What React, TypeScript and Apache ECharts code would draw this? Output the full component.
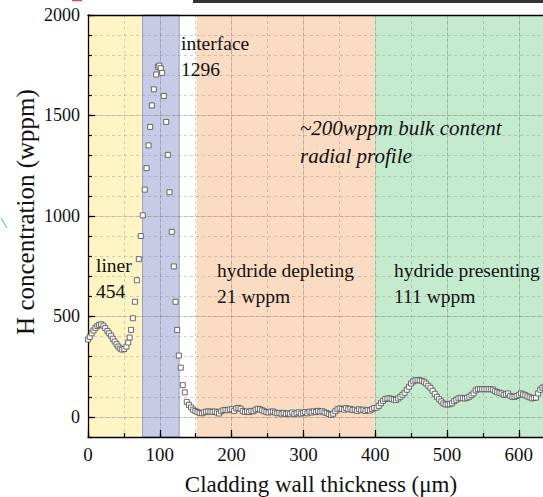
import React, { useEffect, useRef } from 'react';
import * as echarts from 'echarts';

// ---- data (x in µm, H concentration in wppm) ----
const linerData: [number, number][] = [
  [0, 385], [2.5, 398], [5, 416], [7.7, 430], [10.4, 443], [13, 452], [15.5, 458], [18.3, 461],
  [21.5, 454], [24, 442], [27, 428], [29.5, 416], [32.3, 404], [34.6, 389], [37.2, 375], [39.8, 362],
  [42.3, 350], [44.9, 340], [47.6, 335], [50.5, 338], [53.5, 350], [56, 370], [58, 395], [60, 433],
  [62.5, 491], [65.5, 573], [68, 680],
];
const interfaceData: [number, number][] = [
  [70.8, 785], [73.5, 900], [76.3, 1003], [79.1, 1131], [81.5, 1238], [84.3, 1351], [86.6, 1443],
  [89, 1550], [91.7, 1630], [95, 1704], [97.3, 1742], [99.3, 1748], [101.3, 1735], [103.3, 1712],
  [105.6, 1597], [108.9, 1468], [111.2, 1304], [113.5, 1118], [116.7, 921], [119.5, 749],
  [121.9, 573], [124.2, 433], [126.5, 305], [129.2, 245], [132, 158], [134.8, 122], [137.6, 75],
];
const depletingData: [number, number][] = [
  [140.5, 60], [143.5, 47], [146.5, 36], [149.5, 29], [152.5, 24], [155.5, 20], [158.5, 18],
  [161.5, 22], [164.5, 26], [167.5, 27], [170.5, 26], [173.5, 25], [176.5, 27], [179.5, 22],
  [182.5, 17], [185.5, 28], [188.5, 33], [191.5, 35], [194.5, 33], [197.5, 37], [200.5, 38],
  [203.5, 30], [206.5, 42], [209.5, 45], [212.5, 41], [215.5, 30], [218.5, 25], [221.5, 27],
  [224.5, 24], [227.5, 30], [230.5, 28], [233.5, 36], [236.5, 40], [239.5, 38], [242.5, 33],
  [245.5, 28], [248.5, 24], [251.5, 22], [254.5, 26], [257.5, 27], [260.5, 22], [263.5, 18],
  [266.5, 20], [269.5, 16], [272.5, 20], [275.5, 14], [278.5, 18], [281.5, 16], [284.5, 22],
  [287.5, 14], [290.5, 18], [293.5, 23], [296.5, 16], [299.5, 20], [302.5, 24], [305.5, 18],
  [308.5, 26], [311.5, 22], [314.5, 28], [317.5, 24], [320.5, 30], [323.5, 26], [326.5, 28],
  [329.5, 22], [332.5, 20], [335.5, 14], [338.5, 10], [341.5, 16], [344.5, 28], [347.5, 38],
  [350.5, 42], [353.5, 40], [356.5, 36], [359.5, 44], [362.5, 38], [365.5, 40], [368.5, 34],
  [371.5, 36], [374.5, 30], [377.5, 38], [380.5, 33], [383.5, 36], [386.5, 30], [389.5, 34],
  [392.5, 32], [395.5, 38], [398.5, 44],
];
const presentingData: [number, number][] = [
  [402, 46], [405, 55], [408, 68], [411, 80], [414, 89], [417, 92], [420, 92], [423, 90],
  [426, 86], [429, 84], [432, 92], [435, 100], [438, 110], [441, 120], [444, 135], [447, 150],
  [450, 166], [453, 177], [456, 182], [459, 183], [462, 182], [465, 180], [468, 175], [471, 166],
  [474, 155], [477, 145], [480, 130], [483, 115], [486, 100], [489, 88], [492, 77], [495, 67],
  [498, 62], [501, 62], [504, 63], [507, 68], [510, 78], [513, 85], [516, 92], [519, 95],
  [522, 93], [525, 92], [528, 95], [531, 100], [534, 108], [537, 117], [540, 132], [543, 138],
  [546, 138], [549, 138], [552, 138], [555, 138], [558, 138], [561, 138], [564, 136], [567, 128],
  [570, 123], [573, 120], [576, 117], [579, 110], [582, 112], [585, 117], [588, 105], [591, 100],
  [594, 100], [597, 104], [600, 110], [603, 117], [606, 112], [609, 108], [612, 102], [615, 98],
  [618, 92], [621, 94], [624, 96], [627, 117], [630, 135], [633, 145], [636, 150], [639, 150],
];

// shaded regions
const bandStart = [0, 76, 151, 400];
const bandEnd = [76, 127, 400, 700];
const bandColor = ['#FFF5C4', '#C8CBE6', '#FBDBC1', '#C5EBCF'];

// tick labels
const xMajorTicks = [0, 100, 200, 300, 400, 500, 600];
const yMajorTicks = [0, 500, 1000, 1500, 2000];

const FONT = 'Liberation Serif';

export default function App() {
  const ref = useRef<HTMLDivElement>(null);
  useEffect(() => {
    const chart = echarts.init(ref.current as HTMLDivElement, null, { renderer: 'svg' });
    const profileData = [...linerData, ...interfaceData, ...depletingData, ...presentingData];
    const bands = bandStart.map((s, i) => [s, bandEnd[i], i]);
    const axisLineStyle = { color: '#000', width: 1.3 };
    const tickStyle = { color: '#000', width: 1.2 };
    const minorGrid = { color: 'rgba(110,110,110,0.3)', type: [3, 3] as any, width: 1 };
    const majorGrid = { color: 'rgba(110,110,110,0.22)', width: 1 };
    const textBase = { fontFamily: FONT, fill: '#111' };
    const plain = (v: number) => String(v);

    chart.setOption({
      animation: false,
      backgroundColor: '#fff',
      textStyle: { fontFamily: FONT },
      grid: { left: 88, top: 15, width: 459.5, height: 422, outerBoundsMode: 'none', containLabel: false },
      xAxis: [
        {
          type: 'value', min: 0, max: 640, interval: 50, position: 'bottom', z: 1.5,
          axisLine: { show: true, onZero: false, lineStyle: axisLineStyle },
          axisTick: { show: true, inside: true, length: 4, lineStyle: tickStyle },
          axisLabel: { show: false },
          splitLine: { show: true, lineStyle: minorGrid },
        },
        {
          type: 'value', min: 0, max: 640, position: 'bottom', z: 1.5,
          axisLine: { show: false, onZero: false },
          axisTick: { show: true, inside: true, length: 7, customValues: xMajorTicks, lineStyle: tickStyle },
          axisLabel: {
            show: true, customValues: xMajorTicks, margin: 8, formatter: plain,
            fontFamily: FONT, fontSize: 19, color: '#111',
          },
          splitLine: { show: true, lineStyle: majorGrid },
        },
        {
          type: 'value', min: 0, max: 640, position: 'top', z: 1.5,
          axisLine: { show: true, onZero: false, lineStyle: axisLineStyle },
          axisTick: { show: false }, axisLabel: { show: false }, splitLine: { show: false },
        },
      ],
      yAxis: [
        {
          type: 'value', min: -100, max: 2000, interval: 100, position: 'left', z: 1.5,
          axisLine: { show: true, onZero: false, lineStyle: axisLineStyle },
          axisTick: { show: true, inside: true, length: 4, lineStyle: tickStyle },
          axisLabel: { show: false },
          splitLine: { show: true, lineStyle: minorGrid },
        },
        {
          type: 'value', min: -100, max: 2000, position: 'left', z: 1.5,
          axisLine: { show: false, onZero: false },
          axisTick: { show: true, inside: true, length: 7, customValues: yMajorTicks, lineStyle: tickStyle },
          axisLabel: {
            show: true, customValues: yMajorTicks, margin: 8, formatter: plain,
            fontFamily: FONT, fontSize: 18, color: '#111',
          },
          splitLine: { show: true, lineStyle: majorGrid },
        },
      ],
      series: [
        {
          type: 'custom', z: 1, xAxisIndex: 0, yAxisIndex: 0, silent: true,
          data: bands,
          renderItem: (params: any, api: any) => {
            const s = api.value(0);
            const e = api.value(1);
            const i = api.value(2);
            const p0 = api.coord([s, 2000]);
            const p1 = api.coord([e, -100]);
            const cs = params.coordSys;
            return {
              type: 'rect',
              shape: { x: p0[0], y: cs.y, width: p1[0] - p0[0], height: cs.height },
              style: { fill: bandColor[i], stroke: i === 1 ? '#9a9ebf' : null, lineWidth: 1 },
            };
          },
        },
        {
          type: 'scatter', z: 2, xAxisIndex: 0, yAxisIndex: 0, silent: true,
          data: profileData,
          symbol: 'rect', symbolSize: 5,
          itemStyle: { color: '#fff', borderColor: '#5a5a5a', borderWidth: 0.9, opacity: 1 },
        },
      ],
      graphic: [
        { type: 'text', z: 10, x: 181, y: 30.5, style: { ...textBase, text: 'interface\n1296', fontSize: 19.5, lineHeight: 26, verticalAlign: 'top' } },
        { type: 'text', z: 10, x: 96, y: 252.5, style: { ...textBase, text: 'liner\n454', fontSize: 19.5, lineHeight: 26, verticalAlign: 'top' } },
        { type: 'text', z: 10, x: 217, y: 257, style: { ...textBase, text: 'hydride depleting\n21 wppm', fontSize: 19.5, lineHeight: 26.5, verticalAlign: 'top' } },
        { type: 'text', z: 10, x: 394, y: 257, style: { ...textBase, text: 'hydride presenting\n111 wppm', fontSize: 19.5, lineHeight: 26.5, verticalAlign: 'top' } },
        { type: 'text', z: 10, x: 300, y: 114, style: { ...textBase, text: '~200wppm bulk content\nradial profile', fontSize: 21, fontStyle: 'italic', lineHeight: 28, verticalAlign: 'top' } },
        { type: 'text', z: 10, x: 321, y: 484, style: { ...textBase, text: 'Cladding wall thickness (\u03bcm)', fontSize: 23, align: 'center', verticalAlign: 'middle' } },
        { type: 'text', z: 10, x: 25, y: 212, rotation: Math.PI / 2, style: { ...textBase, text: 'H concentration (wppm)', fontSize: 25, align: 'center', verticalAlign: 'middle' } },
        { type: 'line', z: 10, shape: { x1: 193, y1: 1.5, x2: 543, y2: 1.5 }, style: { stroke: '#333', lineWidth: 3 } },
        { type: 'line', z: 10, shape: { x1: 72, y1: 0.5, x2: 82, y2: 0.5 }, style: { stroke: '#e0407a', lineWidth: 1.5 } },
        { type: 'line', z: 10, shape: { x1: 1, y1: 218, x2: 7, y2: 228 }, style: { stroke: '#33c9b0', lineWidth: 1 } },
      ],
    });
    return () => chart.dispose();
  }, []);
  return (
    <div
      ref={ref}
      style={{ position: 'fixed', left: 0, top: 0, width: 543, height: 497, background: '#fff' }}
    />
  );
}
